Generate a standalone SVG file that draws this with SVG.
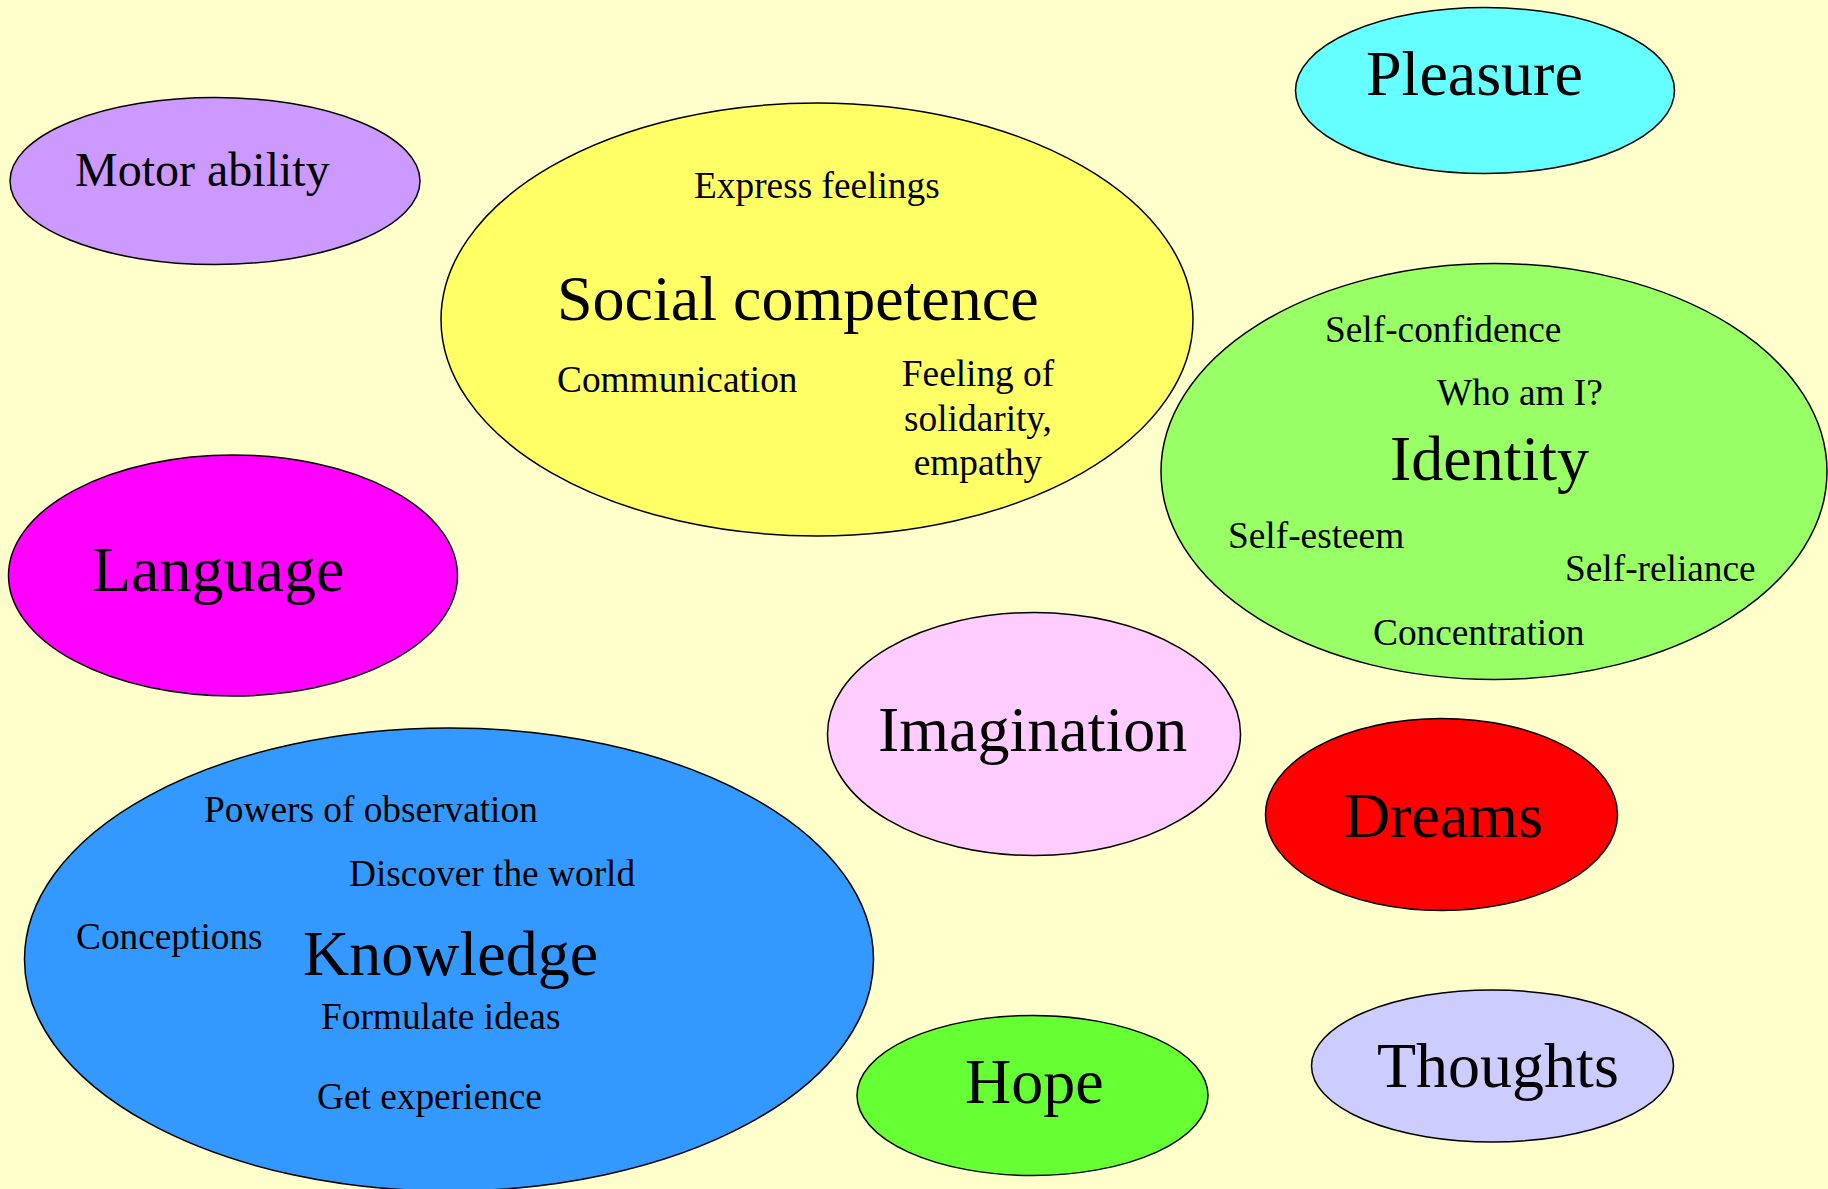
<svg xmlns="http://www.w3.org/2000/svg" width="1828" height="1189" viewBox="0 0 1828 1189">
<style>
.n{stroke:#000;stroke-width:1.5}
.b{font-family:"Liberation Serif","Times New Roman",serif;font-size:64px;fill:#000}
.m{font-family:"Liberation Serif","Times New Roman",serif;font-size:48px;fill:#000}
.s{font-family:"Liberation Serif","Times New Roman",serif;font-size:37.33px;fill:#000}
</style>
<rect width="1828" height="1189" fill="#FFFFCC"/>
<g id="connectors"/>
<g id="motor-ability">
<ellipse class="n" cx="215" cy="181" rx="205" ry="83.5" fill="#CC99FF"/>
<text class="m" x="75" y="186">Motor ability</text>
</g>
<g id="social-competence">
<ellipse class="n" cx="817" cy="319.5" rx="376" ry="216.5" fill="#FFFF66"/>
<text class="s" x="694" y="198">Express feelings</text>
<text class="b" x="557" y="320">Social competence</text>
<text class="s" x="557" y="392">Communication</text>
<text class="s" text-anchor="middle" x="978" y="386">Feeling of</text>
<text class="s" text-anchor="middle" x="978" y="431">solidarity,</text>
<text class="s" text-anchor="middle" x="978" y="475">empathy</text>
</g>
<g id="pleasure">
<ellipse class="n" cx="1485" cy="90.5" rx="189.5" ry="83" fill="#66FFFF"/>
<text class="b" x="1366" y="95">Pleasure</text>
</g>
<g id="identity">
<ellipse class="n" cx="1494" cy="471.5" rx="333" ry="208" fill="#99FF66"/>
<text class="s" x="1325" y="342">Self-confidence</text>
<text class="s" x="1437" y="405">Who am I?</text>
<text class="b" x="1390" y="480">Identity</text>
<text class="s" x="1228" y="548">Self-esteem</text>
<text class="s" x="1565" y="581">Self-reliance</text>
<text class="s" x="1373" y="645">Concentration</text>
</g>
<g id="language">
<ellipse class="n" cx="233" cy="575.5" rx="224.5" ry="120.5" fill="#FF00FF"/>
<text class="b" x="92" y="591">Language</text>
</g>
<g id="knowledge">
<ellipse class="n" cx="449" cy="959.5" rx="424.5" ry="231.5" fill="#3399FF"/>
<text class="s" x="204" y="822">Powers of observation</text>
<text class="s" x="349" y="886">Discover the world</text>
<text class="s" x="76" y="949">Conceptions</text>
<text class="b" x="303" y="975">Knowledge</text>
<text class="s" x="321" y="1029">Formulate ideas</text>
<text class="s" x="317" y="1109">Get experience</text>
</g>
<g id="imagination">
<ellipse class="n" cx="1034" cy="734" rx="206.5" ry="121.5" fill="#FFCCFF"/>
<text class="b" x="878" y="751">Imagination</text>
</g>
<g id="dreams">
<ellipse class="n" cx="1441.5" cy="814.5" rx="176" ry="96" fill="#FF0000"/>
<text class="b" x="1344" y="837">Dreams</text>
</g>
<g id="hope">
<ellipse class="n" cx="1032.5" cy="1095.5" rx="175.5" ry="80" fill="#66FF33"/>
<text class="b" x="965" y="1103">Hope</text>
</g>
<g id="thoughts">
<ellipse class="n" cx="1492.5" cy="1066" rx="181" ry="76" fill="#CCCCFF"/>
<text class="b" x="1377" y="1087">Thoughts</text>
</g>
</svg>
